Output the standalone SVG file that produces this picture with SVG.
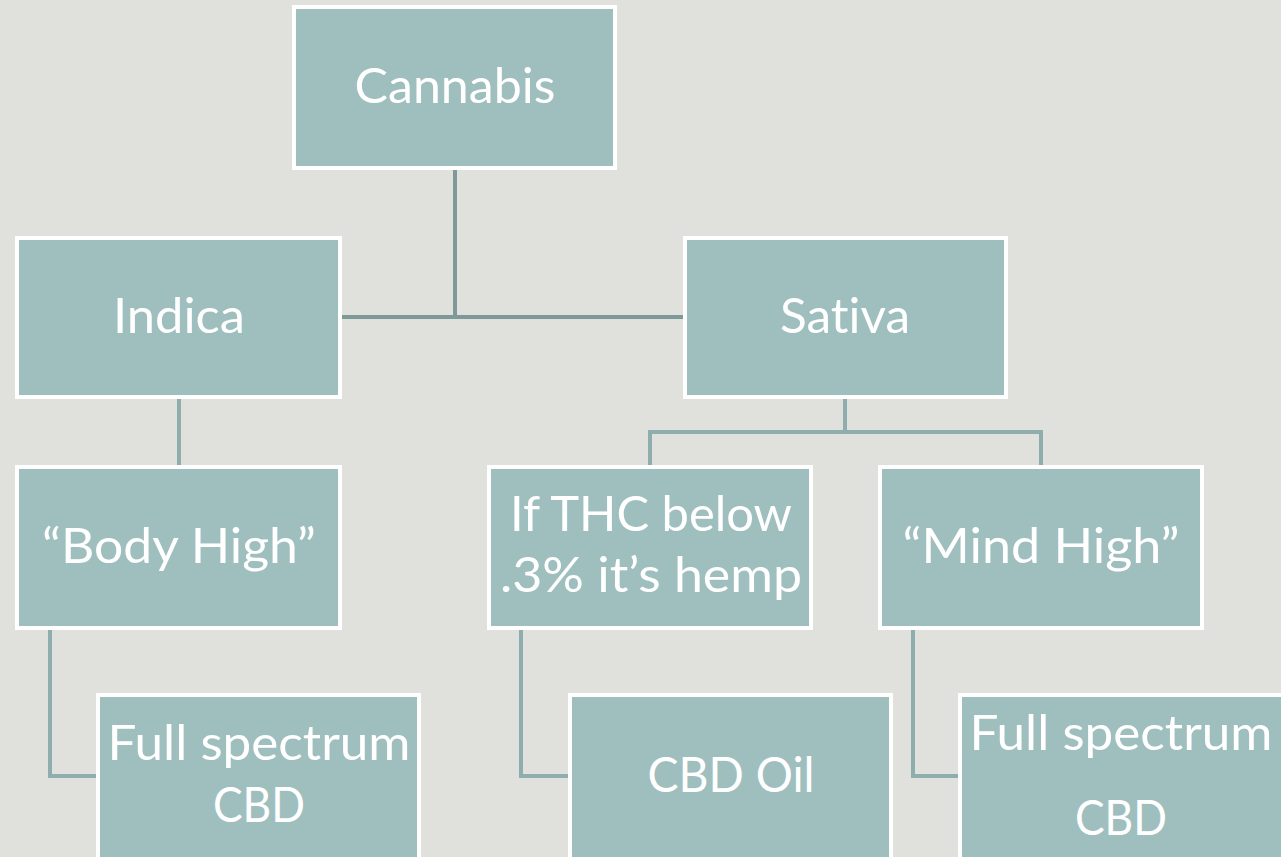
<svg xmlns="http://www.w3.org/2000/svg" width="1281" height="857" viewBox="0 0 1281 857">
<style>
.box{fill:#9fbfbf;stroke:#ffffff;stroke-width:4}
.t{font-family:Lato,"Open Sans","DejaVu Sans",sans-serif;font-size:48px;fill:#ffffff;text-anchor:middle;font-variant-ligatures:none}
.c1{stroke:#7d9a99;stroke-width:4;fill:none}
.c2{stroke:#8eaeae;stroke-width:4;fill:none}
</style>
<rect width="1281" height="857" fill="#e0e1dc"/>
<g id="connectors">
<path class="c1" d="M455 170V317M342 317H683"/>
<path class="c2" d="M179 399V465"/>
<path class="c2" d="M845 399V432M650 465V432H1041V465"/>
<path class="c2" d="M50 630V776H97"/>
<path class="c2" d="M521 630V776H568"/>
<path class="c2" d="M913 630V776H960"/>
</g>
<g id="cannabis"><rect class="box" x="294" y="7" width="321" height="161"/><text class="t" x="455" y="103" textLength="201" lengthAdjust="spacingAndGlyphs">Cannabis</text></g>
<g id="indica"><rect class="box" x="17" y="238" width="323" height="159"/><text class="t" x="179" y="333" textLength="132" lengthAdjust="spacingAndGlyphs">Indica</text></g>
<g id="sativa"><rect class="box" x="685" y="238" width="321" height="159"/><text class="t" x="845" y="333" textLength="130" lengthAdjust="spacingAndGlyphs">Sativa</text></g>
<g id="body-high"><rect class="box" x="17" y="467" width="323" height="161"/><text class="t" x="179" y="563" textLength="274" lengthAdjust="spacingAndGlyphs">“Body High”</text></g>
<g id="hemp"><rect class="box" x="489" y="467" width="322" height="161"/><text class="t" x="651" y="531" textLength="282" lengthAdjust="spacingAndGlyphs">If THC below</text><text class="t" x="651" y="592" textLength="302" lengthAdjust="spacingAndGlyphs">.3% it’s hemp</text></g>
<g id="mind-high"><rect class="box" x="880" y="467" width="322" height="161"/><text class="t" x="1041" y="563" textLength="277" lengthAdjust="spacingAndGlyphs">“Mind High”</text></g>
<g id="full-spectrum-left"><rect class="box" x="98" y="695" width="321" height="170"/><text class="t" x="259" y="760" textLength="303" lengthAdjust="spacingAndGlyphs">Full spectrum</text><text class="t" x="259" y="822" textLength="92" lengthAdjust="spacingAndGlyphs">CBD</text></g>
<g id="cbd-oil"><rect class="box" x="570" y="695" width="321" height="170"/><text class="t" x="731" y="792" textLength="167" lengthAdjust="spacingAndGlyphs">CBD Oil</text></g>
<g id="full-spectrum-right"><rect class="box" x="960" y="695" width="330" height="170"/><text class="t" x="1121" y="750" textLength="303" lengthAdjust="spacingAndGlyphs">Full spectrum</text><text class="t" x="1121" y="835" textLength="92" lengthAdjust="spacingAndGlyphs">CBD</text></g>
</svg>
